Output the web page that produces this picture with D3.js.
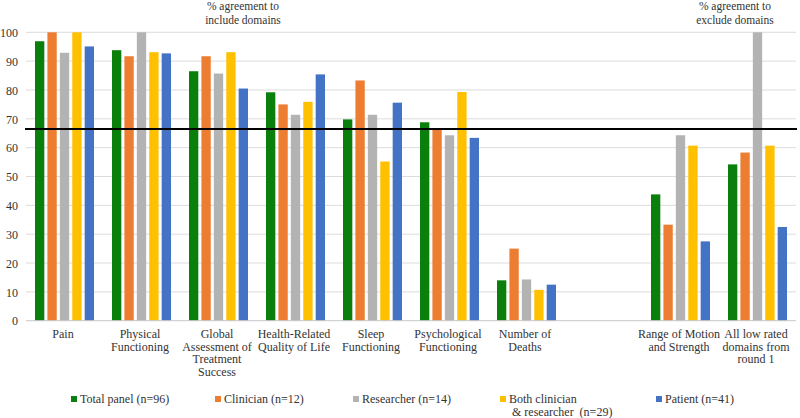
<!DOCTYPE html>
<html><head><meta charset="utf-8">
<script src="https://cdn.jsdelivr.net/npm/d3@7"></script>
<style>body{margin:0;background:#fff}svg{display:block}svg text{white-space:pre}</style>
</head><body><svg id="c" width="800" height="418"></svg>
<script>
const categories = [
  ["Pain"],
  ["Physical","Functioning"],
  ["Global","Assessment of","Treatment","Success"],
  ["Health-Related","Quality of Life"],
  ["Sleep","Functioning"],
  ["Psychological","Functioning"],
  ["Number of","Deaths"],
  [],
  ["Range of Motion","and Strength"],
  ["All low rated","domains from","round 1"]
];
const seriesNames = ["Total panel (n=96)","Clinician (n=12)","Researcher (n=14)","Both clinician| & researcher  (n=29)","Patient (n=41)"];
const seriesColors = ["#0a7f0c","#ed7d31","#b3b3b3","#ffc000","#4472c4"];
const totalPanel = [96.9, 93.8, 86.5, 79.2, 69.8, 68.8, 14.0, null, 43.8, 54.2];
const clinician  = [100, 91.7, 91.7, 75.0, 83.3, 66.7, 25.0, null, 33.3, 58.3];
const researcher = [92.9, 100, 85.7, 71.4, 71.4, 64.3, 14.3, null, 64.3, 100];
const both       = [100, 93.1, 93.1, 75.9, 55.2, 79.3, 10.7, null, 60.7, 60.7];
const patient    = [95.1, 92.7, 80.5, 85.4, 75.6, 63.4, 12.5, null, 27.5, 32.5];
const yTicks = [0,10,20,30,40,50,60,70,80,90,100];
const threshold = 66.5;
const series = [totalPanel, clinician, researcher, both, patient];

const FONT = "Liberation Serif, Times New Roman, Times, DejaVu Serif, serif";
const svg = d3.select("#c").style("font-family", FONT);
const pL = 26, pR = 796, pT = 32.3, pB = 320.7;
const x0 = d3.scaleBand().domain(d3.range(categories.length)).range([pL, pR]).paddingInner(0).paddingOuter(0);
const x1 = d3.scaleBand().domain(d3.range(series.length)).range([0, 59]).paddingInner(0.25).paddingOuter(0);
const y = d3.scaleLinear().domain([0,100]).range([pB, pT]);

// gridlines
svg.append("g").selectAll("line").data(yTicks.filter(d=>d>0)).join("line")
  .attr("x1", pL).attr("x2", pR).attr("y1", d=>y(d)).attr("y2", d=>y(d))
  .attr("stroke","#dcdcdc").attr("stroke-width",1);

// y axis labels
const yAxis = d3.axisLeft(y).tickValues(yTicks).tickSize(0).tickPadding(0);
const ga = svg.append("g").attr("transform",`translate(${pL-8},0)`).call(yAxis);
ga.attr("font-family", null).style("font-family", FONT).style("font-size","12px");
ga.select(".domain").remove();
ga.selectAll("text").attr("fill","#333").attr("dy","0.35em");

// bars
categories.forEach((c,i)=>{
  const g = svg.append("g").attr("transform",`translate(${x0(i)+x0.bandwidth()/2-29.5},0)`);
  series.forEach((s,j)=>{
    if (s[i]==null) return;
    g.append("rect").attr("x", x1(j)).attr("width", x1.bandwidth())
      .attr("y", y(s[i])).attr("height", y(0)-y(s[i])).attr("fill", seriesColors[j]);
  });
});

// zero axis
svg.append("line").attr("x1",pL).attr("x2",pR).attr("y1",y(0)).attr("y2",y(0)).attr("stroke","#c8c8c8").attr("stroke-width",1);

// threshold line
svg.append("line").attr("x1",pL-1).attr("x2",pR+1).attr("y1",y(threshold)).attr("y2",y(threshold)).attr("stroke","#000").attr("stroke-width",2);

// category labels
categories.forEach((c,i)=>{
  const cx = x0(i)+x0.bandwidth()/2-1.5;
  const t = svg.append("text").attr("text-anchor","middle").style("font-family",FONT).style("font-size","12px").attr("fill","#333");
  c.forEach((line,k)=>t.append("tspan").attr("x", cx).attr("y", 338+k*12.5).text(line));
});

// annotations
[[243,"% agreement to","include domains"],[735,"% agreement to","exclude domains"]].forEach(a=>{
  const t = svg.append("text").attr("text-anchor","middle").style("font-family",FONT).style("font-size","11.5px").attr("fill","#333");
  t.append("tspan").attr("x",a[0]).attr("y",10).text(a[1]);
  t.append("tspan").attr("x",a[0]).attr("y",23.5).text(a[2]);
});

// legend
const legX = [71, 215, 353, 500, 656];
seriesNames.forEach((n,j)=>{
  svg.append("rect").attr("x",legX[j]).attr("y",396).attr("width",6).attr("height",6).attr("fill",seriesColors[j]);
  const lines = n.split("|");
  const t = svg.append("text").style("font-family",FONT).style("font-size","12px").attr("fill","#333");
  lines.forEach((l,k)=>t.append("tspan").attr("x",legX[j]+9).attr("y",403+k*12.5).text(l));
});
</script></body></html>
